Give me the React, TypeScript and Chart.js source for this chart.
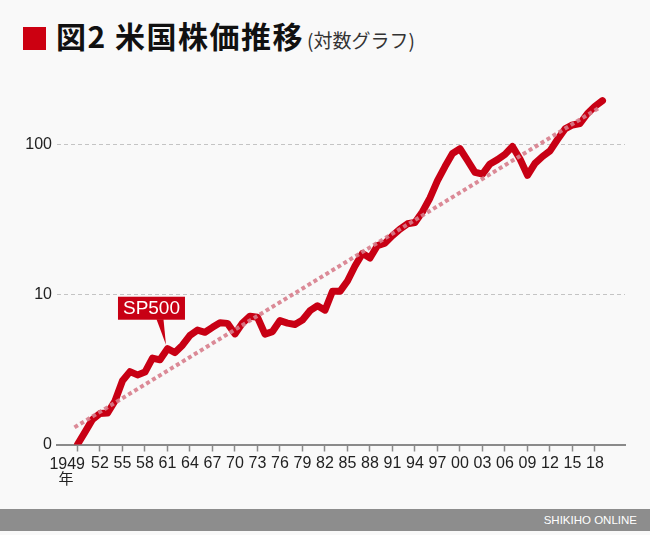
import React, { useEffect, useRef } from "react";
import { Chart, registerables } from "chart.js";

Chart.register(...registerables);

const YEARS = [
  1949, 1950, 1951, 1952, 1953, 1954, 1955, 1956, 1957, 1958,
  1959, 1960, 1961, 1962, 1963, 1964, 1965, 1966, 1967, 1968,
  1969, 1970, 1971, 1972, 1973, 1974, 1975, 1976, 1977, 1978,
  1979, 1980, 1981, 1982, 1983, 1984, 1985, 1986, 1987, 1988,
  1989, 1990, 1991, 1992, 1993, 1994, 1995, 1996, 1997, 1998,
  1999, 2000, 2001, 2002, 2003, 2004, 2005, 2006, 2007, 2008,
  2009, 2010, 2011, 2012, 2013, 2014, 2015, 2016, 2017, 2018,
  2019,
];

const SP500 = [
  1.0, 1.21, 1.47, 1.61, 1.62, 1.95, 2.66, 3.06, 2.91, 3.04,
  3.77, 3.67, 4.35, 4.1, 4.59, 5.34, 5.79, 5.6, 6.04, 6.48,
  6.42, 5.46, 6.45, 7.17, 7.05, 5.44, 5.66, 6.7, 6.45, 6.31,
  6.76, 7.8, 8.41, 7.86, 10.5, 10.5, 12.3, 15.5, 18.8, 17.5,
  21.2, 22.0, 24.7, 27.3, 29.6, 30.2, 35.6, 44.0, 57.4, 71.3,
  87.2, 93.7, 78.4, 65.3, 63.4, 74.2, 79.3, 86.0, 97.0, 80.1,
  62.3, 74.9, 83.2, 90.6, 108, 127, 135, 138, 161, 180,
  196,
];

const TREND_YEARS = [1948.6, 2018.5];
const TREND_VALUES = [1.3, 175];

const X_TICK_YEARS = [
  1949, 1952, 1955, 1958, 1961, 1964, 1967, 1970, 1973, 1976, 1979, 1982,
  1985, 1988, 1991, 1994, 1997, 2000, 2003, 2006, 2009, 2012, 2015, 2018,
];
const X_TICK_LABELS = [
  "1949", "52", "55", "58", "61", "64", "67", "70", "73", "76", "79", "82",
  "85", "88", "91", "94", "97", "00", "03", "06", "09", "12", "15", "18",
];
const YEAR_UNIT = "年";

const Y_TICK_VALUES = [1, 10, 100];
const Y_TICK_LABELS = ["0", "10", "100"];

const SERIES_LABEL = "SP500";
const SERIES_LABEL_YEAR = 1961;

const RED = "#c80014";
const SANS = '"Liberation Sans", Arial, sans-serif';
const CJK = '"Noto Sans CJK JP", "Noto Sans", sans-serif';

export default function App() {
  const ref = useRef<HTMLCanvasElement>(null);

  useEffect(() => {
    const canvas = ref.current;
    if (!canvas) return;

    const overlay = {
      id: "overlay",
      afterDraw(chart: any) {
        const ctx = chart.ctx;
        const xs = chart.scales.x;
        const ys = chart.scales.y;
        const bottom = chart.chartArea.bottom;
        ctx.save();
        // first x label "1949" and unit
        const x0 = xs.getPixelForValue(X_TICK_YEARS[0]);
        ctx.fillStyle = "#222";
        ctx.font = "16px " + SANS;
        ctx.textAlign = "right";
        ctx.textBaseline = "alphabetic";
        ctx.fillText(X_TICK_LABELS[0], x0 + 7.5, bottom + 24);
        ctx.font = "15px " + CJK;
        ctx.textAlign = "center";
        ctx.fillText(YEAR_UNIT, x0 - 11.5, bottom + 39.5);

        // series callout
        const idx = YEARS.indexOf(SERIES_LABEL_YEAR);
        const px = xs.getPixelForValue(SERIES_LABEL_YEAR);
        const py = ys.getPixelForValue(SP500[idx]);
        const bx = px - 49.5;
        const by = py - 52;
        const bw = 67;
        const bh = 23;
        ctx.fillStyle = RED;
        ctx.fillRect(bx, by, bw, bh);
        ctx.beginPath();
        ctx.moveTo(px - 11, by + bh - 0.5);
        ctx.lineTo(px - 4, by + bh - 0.5);
        ctx.lineTo(px - 1.5, py - 4);
        ctx.closePath();
        ctx.fill();
        ctx.fillStyle = "#ffffff";
        ctx.font = "19px " + SANS;
        ctx.textAlign = "center";
        ctx.textBaseline = "middle";
        ctx.fillText(SERIES_LABEL, bx + bw / 2, by + bh / 2 + 1);
        ctx.restore();
      },
    };

    const chart = new Chart(canvas, {
      type: "line",
      data: {
        datasets: [
          {
            label: "trend",
            data: TREND_YEARS.map((x, i) => ({ x, y: TREND_VALUES[i] })),
            borderColor: "rgba(215,125,140,0.9)",
            borderWidth: 4,
            borderDash: [4, 3],
            borderCapStyle: "butt",
            pointRadius: 0,
            fill: false,
            order: 0,
          },
          {
            label: SERIES_LABEL,
            data: YEARS.map((x, i) => ({ x, y: SP500[i] })),
            borderColor: RED,
            borderWidth: 7,
            borderJoinStyle: "round",
            borderCapStyle: "round",
            pointRadius: 0,
            tension: 0,
            fill: false,
            order: 1,
          },
        ],
      },
      options: {
        animation: false,
        responsive: false,
        maintainAspectRatio: false,
        layout: { padding: { left: 0, right: 25, top: 80, bottom: 0 } },
        plugins: {
          legend: { display: false },
          tooltip: { enabled: false },
        },
        scales: {
          x: {
            type: "linear",
            min: 1946.27,
            max: 2022,
            afterFit: (s: any) => {
              s.height = 90.5;
            },
            afterBuildTicks: (s: any) => {
              s.ticks = X_TICK_YEARS.map((v) => ({ value: v }));
            },
            ticks: {
              autoSkip: false,
              maxRotation: 0,
              minRotation: 0,
              padding: 2,
              color: "#222",
              font: { size: 16, family: SANS },
              callback: (_v: any, i: number) => (i === 0 ? "" : X_TICK_LABELS[i]),
            },
            grid: {
              drawOnChartArea: false,
              drawTicks: true,
              tickLength: 7,
              tickColor: "#8a8a8a",
              tickWidth: 1.5,
            },
            border: { display: true, color: "#8a8a8a", width: 2 },
          },
          y: {
            type: "logarithmic",
            min: 1,
            max: Math.pow(10, 364.5 / 150),
            afterFit: (s: any) => {
              s.width = 57;
            },
            afterBuildTicks: (s: any) => {
              s.ticks = Y_TICK_VALUES.map((v) => ({ value: v }));
            },
            ticks: {
              padding: 5,
              color: "#222",
              font: { size: 16, family: SANS },
              callback: (_v: any, i: number) => Y_TICK_LABELS[i],
            },
            grid: {
              drawTicks: false,
              lineWidth: 1,
              color: (c: any) =>
                c.tick && c.tick.value > 1 ? "#c4c4c4" : "rgba(0,0,0,0)",
            },
            border: { display: false, dash: [4, 3] },
          },
        },
      },
      plugins: [overlay],
    } as any);

    return () => chart.destroy();
  }, []);

  return (
    <div
      style={{
        position: "absolute",
        left: 0,
        top: 0,
        width: 650,
        height: 535,
        background: "#f9f9f9",
        overflow: "hidden",
      }}
    >
      <div
        style={{
          position: "absolute",
          left: 23,
          top: 27,
          width: 23,
          height: 23,
          background: "#cc0011",
        }}
      />
      <div
        style={{
          position: "absolute",
          left: 56,
          top: 19,
          whiteSpace: "nowrap",
          fontFamily: CJK,
          fontWeight: 700,
          fontSize: 30,
          lineHeight: "32px",
          color: "#111",
          letterSpacing: 1.5,
        }}
      >
        図2 米国株価推移
        <span
          style={{
            fontWeight: 400,
            fontSize: 19,
            color: "#333",
            marginLeft: 3,
            letterSpacing: 0,
          }}
        >
          (対数グラフ)
        </span>
      </div>
      <canvas
        ref={ref}
        width={650}
        height={535}
        style={{ position: "absolute", left: 0, top: 0, width: 650, height: 535 }}
      />
      <div
        style={{
          position: "absolute",
          left: 0,
          top: 509,
          width: 650,
          height: 22,
          background: "#8d8d8d",
          color: "#ffffff",
          fontFamily: SANS,
          fontSize: 11.5,
          lineHeight: "22px",
          textAlign: "right",
          boxSizing: "border-box",
          paddingRight: 13,
        }}
      >
        SHIKIHO ONLINE
      </div>
    </div>
  );
}
